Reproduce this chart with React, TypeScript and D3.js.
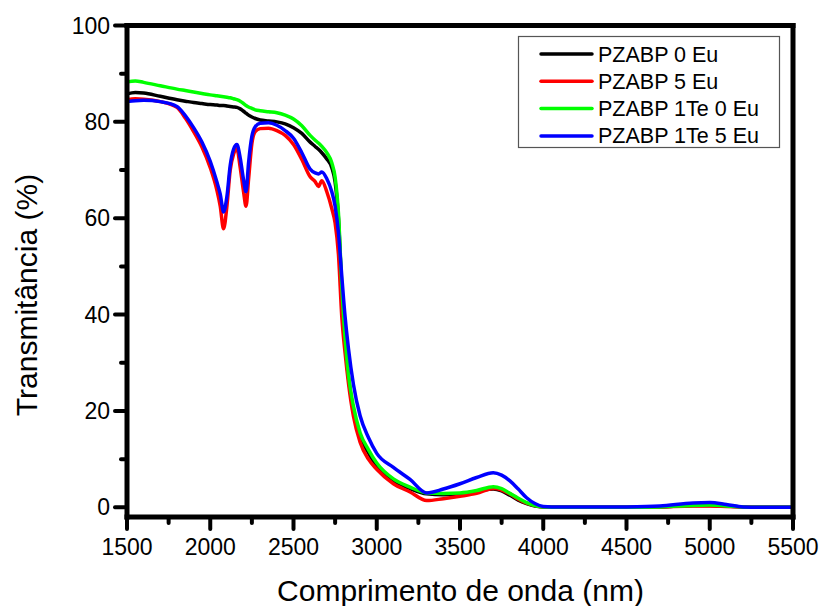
import React from "react";
import * as d3 from "d3";

// Wavelength grid (nm) shared by all four spectra
const wavelengths = [
  1500, 1550, 1600, 1700, 1800, 1850, 1900, 1950, 2000, 2040, 2060, 2080, 2100,
  2120, 2140, 2160, 2180, 2200, 2215, 2230, 2250, 2270, 2300, 2350, 2400, 2450,
  2500, 2550, 2600, 2630, 2650, 2670, 2700, 2730, 2750, 2770, 2790, 2810, 2830,
  2860, 2900, 2950, 3000, 3100, 3200, 3300, 3400, 3500, 3600, 3700, 3750, 3800,
  3850, 3900, 3950, 4000, 4100, 4300, 4500, 4700, 4900, 5000, 5100, 5200, 5300,
  5500,
];

// Transmittance (%) per sample
const pzabp0Eu = [
  85.8, 86.1, 86.0, 85.3, 84.6, 84.3, 84.0, 83.8, 83.6, 83.5, 83.4, 83.4, 83.3,
  83.2, 83.1, 83.0, 82.7, 82.2, 81.8, 81.4, 81.0, 80.7, 80.4, 80.2, 80.0, 79.6,
  78.8, 77.6, 75.8, 74.9, 74.3, 73.6, 72.3, 70.5, 67.5, 60.0, 45.0, 34.0, 27.0,
  20.0, 14.8, 11.3, 8.5, 5.5, 3.9, 2.8, 2.6, 2.8, 3.3, 3.8, 3.4, 2.5,
  1.5, 0.8, 0.3, 0.1, 0.0, 0.0, 0.0, 0.1, 0.4, 0.4, 0.3, 0.1, 0.0,
  0.0,
];

const pzabp5Eu = [
  84.6, 84.8, 84.7, 84.2, 83.0, 80.8, 78.0, 74.8, 70.5, 65.8, 62.5, 57.8, 62.5,
  70.0, 73.3, 74.4, 70.5, 65.5, 62.5, 68.0, 75.5, 78.0, 78.6, 78.7, 78.2, 77.2,
  75.3, 72.2, 68.6, 67.6, 66.6, 67.8, 65.5, 62.0, 59.0, 52.5, 39.6, 32.0, 25.8,
  18.9, 13.5, 10.0, 7.9, 4.9, 3.2, 1.4, 1.8, 2.3, 2.9, 3.9, 3.6, 2.8,
  1.7, 0.9, 0.4, 0.1, 0.0, 0.0, 0.0, 0.1, 0.3, 0.3, 0.2, 0.1, 0.0,
  0.0,
];

const pzabp1Te0Eu = [
  88.3, 88.5, 88.2, 87.5, 86.8, 86.5, 86.2, 85.9, 85.6, 85.4, 85.3, 85.2, 85.1,
  85.0, 84.8, 84.6, 84.3, 83.8, 83.4, 83.1, 82.8, 82.5, 82.3, 82.1, 81.9, 81.4,
  80.6, 79.2, 77.2, 76.2, 75.6, 74.9, 73.6, 71.5, 68.5, 61.0, 46.0, 35.0, 27.5,
  21.0, 15.5, 12.0, 9.2, 5.9, 4.2, 3.0, 2.9, 3.0, 3.5, 4.3, 3.9, 2.9,
  1.9, 1.0, 0.4, 0.1, 0.0, 0.0, 0.0, 0.1, 0.4, 0.5, 0.3, 0.1, 0.0,
  0.0,
];

const pzabp1Te5Eu = [
  84.2, 84.4, 84.5, 84.2, 83.2, 81.3, 78.8, 75.8, 71.8, 67.5, 65.0, 61.3, 64.5,
  71.0, 74.3, 75.3, 72.5, 68.0, 65.5, 71.5, 77.0, 79.0, 79.7, 79.8, 79.3, 78.2,
  76.6, 73.6, 70.2, 69.4, 69.2, 69.6, 68.2, 65.5, 62.5, 57.0, 48.0, 39.5, 33.0,
  25.5, 19.0, 14.5, 11.2, 8.3, 5.8, 3.0, 3.8, 4.9, 6.2, 7.2, 6.7, 5.5,
  3.8, 2.0, 0.8, 0.2, 0.05, 0.05, 0.1, 0.3, 0.9, 1.0, 0.6, 0.1, 0.0,
  0.0,
];

const seriesNames = ["PZABP 0 Eu", "PZABP 5 Eu", "PZABP 1Te 0 Eu", "PZABP 1Te 5 Eu"];
const seriesValues = [pzabp0Eu, pzabp5Eu, pzabp1Te0Eu, pzabp1Te5Eu];
const seriesColors = ["#000000", "#ff0000", "#00ff00", "#0000ff"];

const xMajorTicks = [1500, 2000, 2500, 3000, 3500, 4000, 4500, 5000, 5500];
const xMinorTicks = [1750, 2250, 2750, 3250, 3750, 4250, 4750, 5250];
const yMajorTicks = [0, 20, 40, 60, 80, 100];
const yMinorTicks = [10, 30, 50, 70, 90];

const W = 823;
const H = 606;
const left = 127;
const right = 793;
const top = 25.5;
const bottom = 517;

const FONT = "'Liberation Sans', Arial, sans-serif";

export default function App() {
  const x = d3.scaleLinear().domain([1500, 5500]).range([left, right]);
  const y = d3.scaleLinear().domain([-2, 100]).range([bottom, top]);

  const line = d3
    .line<number>()
    .x((_, i) => x(wavelengths[i]))
    .y((v) => y(v))
    .curve(d3.curveMonotoneX);

  const axisW = 5;
  const majorLen = 12;
  const minorLen = 6;

  return (
    <svg
      width={W}
      height={H}
      style={{ position: "absolute", left: 0, top: 0, background: "#fff" }}
      fontFamily={FONT}
    >
      <rect x={0} y={0} width={W} height={H} fill="#fff" />

      {/* spectra */}
      <g fill="none" strokeWidth={3.5} strokeLinejoin="round" strokeLinecap="round">
        {seriesValues.map((vals, k) => (
          <path key={k} d={line(vals) || ""} stroke={seriesColors[k]} />
        ))}
      </g>

      {/* frame */}
      <g stroke="#000" strokeWidth={axisW} strokeLinecap="square" fill="none">
        <line x1={left} y1={top} x2={right} y2={top} />
        <line x1={right} y1={top} x2={right} y2={bottom} />
        <line x1={left} y1={bottom} x2={right} y2={bottom} />
        <line x1={left} y1={top} x2={left} y2={bottom} />
      </g>

      {/* ticks */}
      <g stroke="#000" strokeWidth={4} strokeLinecap="round">
        {xMajorTicks.map((t) => (
          <line key={t} x1={x(t)} x2={x(t)} y1={bottom} y2={bottom + majorLen} />
        ))}
        {xMinorTicks.map((t) => (
          <line key={t} x1={x(t)} x2={x(t)} y1={bottom} y2={bottom + minorLen} />
        ))}
        {yMajorTicks.map((t) => (
          <line key={t} x1={left} x2={left - majorLen} y1={y(t)} y2={y(t)} />
        ))}
        {yMinorTicks.map((t) => (
          <line key={t} x1={left} x2={left - minorLen} y1={y(t)} y2={y(t)} />
        ))}
      </g>

      {/* tick labels */}
      <g fontSize={23} fill="#000">
        {xMajorTicks.map((t) => (
          <text key={t} x={x(t)} y={555} textAnchor="middle">
            {t}
          </text>
        ))}
        {yMajorTicks.map((t) => (
          <text key={t} x={110} y={y(t) + 8} textAnchor="end">
            {t}
          </text>
        ))}
      </g>

      {/* axis titles */}
      <text x={460.5} y={601} fontSize={30} textAnchor="middle" fill="#000">
        Comprimento de onda (nm)
      </text>
      <text
        transform="translate(37,295) rotate(-90)"
        fontSize={30}
        textAnchor="middle"
        fill="#000"
      >
        Transmitância (%)
      </text>

      {/* legend */}
      <rect x={518.5} y={36.5} width={261} height={111} fill="#fff" stroke="#555" strokeWidth={1.2} />
      {seriesNames.map((name, k) => {
        const ly = 54 + k * 27.3;
        return (
          <g key={name}>
            <line x1={541} x2={592} y1={ly} y2={ly} stroke={seriesColors[k]} strokeWidth={3.5} strokeLinecap="round" />
            <text x={598} y={ly + 7.5} fontSize={21.5} fill="#000">
              {name}
            </text>
          </g>
        );
      })}
    </svg>
  );
}
